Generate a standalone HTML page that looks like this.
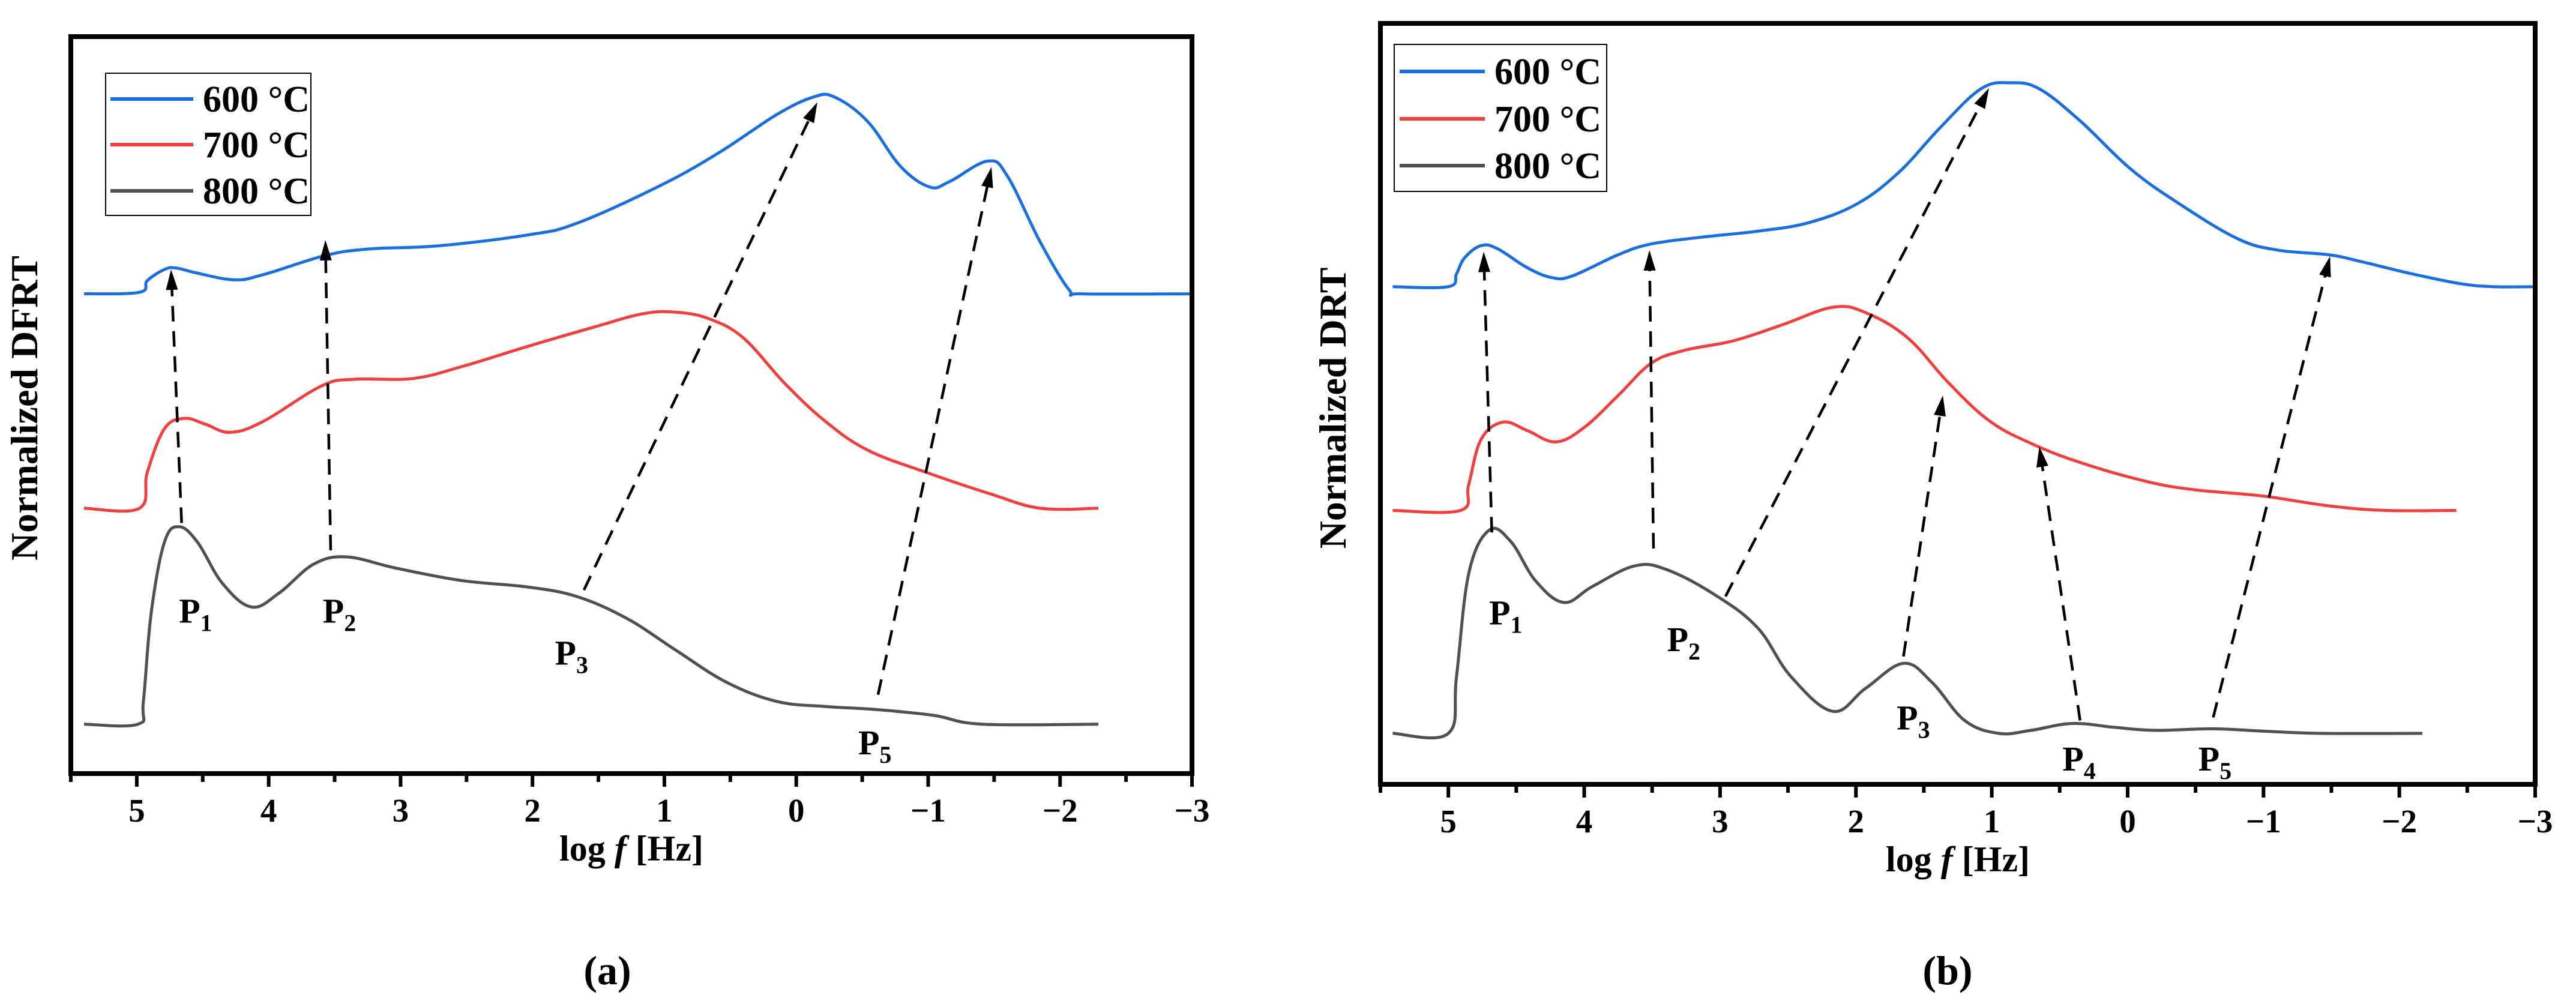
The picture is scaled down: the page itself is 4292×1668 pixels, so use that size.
<!DOCTYPE html>
<html><head><meta charset="utf-8">
<style>
html,body{margin:0;padding:0;background:#fff;}
svg{display:block;}
text{font-family:"Liberation Serif","Times New Roman",serif;font-weight:bold;fill:#000;}
</style></head>
<body>
<svg id="fig" xmlns="http://www.w3.org/2000/svg" width="4292" height="1668" viewBox="0 0 4292 1668">
</svg>
<script>
// ---------- Panel (a) data ----------
const aBlueX=[5.40,4.98,4.92,4.79,4.70,4.54,4.26,4.04,3.57,3.23,2.72,2.03,1.66,1.03,0.59,0.15,-0.13,-0.29,-0.54,-0.79,-1.01,-1.16,-1.45,-1.60,-1.85,-2.07,-2.17,-3.0];
const aBlueY=[65.1,65.3,66.9,68.4,68.6,67.9,67.0,67.7,70.3,71.2,71.6,73.1,74.7,79.8,84.2,89.4,91.8,91.8,88.5,82.4,79.6,80.3,83.1,81.1,72.1,65.6,65.1,65.1];
const aRedX=[5.40,4.98,4.92,4.79,4.64,4.48,4.29,4.04,3.60,3.35,2.91,2.54,2.03,1.53,1.16,0.91,0.66,0.40,0.09,-0.22,-0.54,-0.98,-1.48,-1.85,-2.29];
const aRedY=[36.0,36.0,40.9,46.8,48.2,47.4,46.3,47.8,52.6,53.5,53.6,55.2,58.0,60.6,62.4,62.6,61.7,59.1,53.0,47.8,43.9,40.9,37.9,36.0,36.0];
const aGrayX=[5.40,4.99,4.95,4.89,4.79,4.68,4.54,4.35,4.13,3.92,3.66,3.41,3.04,2.54,2.03,1.66,1.28,0.91,0.53,0.15,-0.22,-0.60,-1.04,-1.41,-2.29];
const aGrayY=[6.7,6.7,9.8,21.9,31.4,33.5,31.4,25.8,22.6,24.5,28.4,29.4,27.9,26.2,25.3,24.0,21.0,16.7,12.4,9.8,9.1,8.7,7.9,6.7,6.7];
const aArrowX0=[4.66,3.53,1.61,-0.62];
const aArrowY0=[34.0,30.3,24.9,10.7];
const aArrowX1=[4.74,3.57,-0.16,-1.48];
const aArrowY1=[68.4,72.4,91.1,82.3];
const aPeakNames=["1","2","3","5"];
const aPeakX=[4.68,3.59,1.83,-0.47];
const aPeakY=[20.5,20.5,14.8,2.6];
// ---------- Panel (b) data ----------
const bBlueX=[5.41,5.0,4.94,4.88,4.76,4.64,4.42,4.24,4.09,3.75,3.51,3.14,2.72,2.35,1.99,1.68,1.38,1.08,0.86,0.65,0.35,-0.02,-0.38,-0.81,-1.11,-1.48,-1.72,-2.09,-2.45,-2.69,-3.0];
const bBlueY=[65.4,65.4,67.1,69.2,70.8,70.4,67.9,66.6,66.8,69.6,71.0,71.9,72.7,73.8,76.3,80.5,86.3,91.4,92.2,91.4,87.2,80.9,76.3,71.7,70.2,69.6,68.7,67.1,65.8,65.4,65.4];
const bRedX=[5.41,4.91,4.85,4.76,4.60,4.42,4.21,4.0,3.75,3.51,3.27,2.90,2.54,2.17,1.93,1.62,1.32,1.02,0.71,0.35,-0.14,-0.50,-0.99,-1.48,-1.90,-2.42];
const bRedY=[36.0,36.0,39.4,45.3,47.6,46.5,45.0,46.9,51.1,55.3,57.0,58.3,60.4,62.7,62.0,58.7,52.8,47.8,44.8,42.3,39.8,38.7,37.9,36.6,36.0,36.0];
const bGrayX=[5.41,5.0,4.94,4.85,4.70,4.54,4.36,4.15,3.94,3.63,3.39,3.02,2.72,2.48,2.17,1.93,1.65,1.44,1.20,0.95,0.71,0.41,0.10,-0.20,-0.63,-0.99,-1.42,-2.17];
const bGrayY=[6.7,6.7,14.2,27.7,33.4,31.9,26.8,23.9,26.0,28.7,28.2,24.7,20.5,14.2,9.6,12.6,15.9,13.4,8.4,6.7,7.1,8.0,7.5,7.1,7.3,7.0,6.7,6.7];
const bArrowX0=[4.68,3.49,2.96,1.65,0.35,-0.63];
const bArrowY0=[33.1,31.0,24.7,16.8,8.4,8.8];
const bArrowX1=[4.74,3.52,1.02,1.36,0.65,-1.49];
const bArrowY1=[70.0,70.2,91.5,51.1,44.4,69.4];
const bPeakNames=["1","2","3","4","5"];
const bPeakX=[4.70,3.39,1.70,0.48,-0.52];
const bPeakY=[21.0,17.5,7.2,1.8,1.8];
// shared
const legendLabels=["600 °C","700 °C","800 °C"];
const tickValues=[5,4,3,2,1,0,-1,-2,-3];
const tickLabels=["5","4","3","2","1","0","\u22121","\u22122","\u22123"];
const minorTicks=[5.5,4.5,3.5,2.5,1.5,0.5,-0.5,-1.5,-2.5];
const colors=["#1a6fdc","#ef4040","#505050"];

const NS="http://www.w3.org/2000/svg";
const svg=document.getElementById('fig');
function mk(tag,attrs,parent){const e=document.createElementNS(NS,tag);for(const k in attrs)e.setAttribute(k,attrs[k]);(parent||svg).appendChild(e);return e;}

function smoothPath(pts){
  let d="M"+pts[0][0].toFixed(1)+","+pts[0][1].toFixed(1);
  for(let i=0;i<pts.length-1;i++){
    const p0=pts[Math.max(0,i-1)],p1=pts[i],p2=pts[i+1],p3=pts[Math.min(pts.length-1,i+2)];
    const t=0.18;
    const c1=[p1[0]+(p2[0]-p0[0])*t,p1[1]+(p2[1]-p0[1])*t];
    const c2=[p2[0]-(p3[0]-p1[0])*t,p2[1]-(p3[1]-p1[1])*t];
    d+=" C"+c1[0].toFixed(1)+","+c1[1].toFixed(1)+" "+c2[0].toFixed(1)+","+c2[1].toFixed(1)+" "+p2[0].toFixed(1)+","+p2[1].toFixed(1);
  }
  return d;
}

function panel(cfg){
  const g=mk('g',{});
  
  
  const L=cfg.L,R=cfg.R,T=cfg.T,B=cfg.B;
  const xs=v=>L+(5.5-v)/8.5*(R-L);
  const ys=v=>B-v/100*(B-T);
  cfg.series.forEach((s,i)=>{
    const pts=s.x.map((xv,j)=>[xs(xv),ys(s.y[j])]);
    const p=mk('path',{d:smoothPath(pts),fill:'none',stroke:colors[i],'stroke-width':5,'stroke-linejoin':'round'},g);
    
    
  });
  cfg.ax0.forEach((v,i)=>{
    const x0=xs(v),y0=ys(cfg.ay0[i]),x1=xs(cfg.ax1[i]),y1=ys(cfg.ay1[i]);
    const len=Math.hypot(x1-x0,y1-y0);
    const ux=(x1-x0)/len,uy=(y1-y0)/len;
    const ln=mk('line',{x1:x0,y1:y0,x2:x1-ux*28,y2:y1-uy*28,stroke:'#000','stroke-width':4.5,'stroke-dasharray':'26,16'},g);
    
    
    const px=-uy,py=ux;
    const bx=x1-ux*34,by=y1-uy*34;
    const hd=mk('polygon',{points:x1+","+y1+" "+(bx+px*10)+","+(by+py*10)+" "+(bx-px*10)+","+(by-py*10),fill:'#000'},g);
    
    
  });
  cfg.pn.forEach((n,i)=>{
    const t=mk('text',{x:xs(cfg.px[i]),y:ys(cfg.py[i]),'font-size':58},g);
    
    
    t.textContent='P';
    const s=mk('tspan',{'font-size':40,dy:14},t);
    s.textContent=n;
  });
  const fr=mk('rect',{x:L,y:T,width:R-L,height:B-T,fill:'none',stroke:'#000','stroke-width':8},g);
  
  
  tickValues.forEach((v,i)=>{
    const x=xs(v);
    const tk=mk('line',{x1:x,y1:B,x2:x,y2:B+22,stroke:'#000','stroke-width':6},g);
    
    
    const tl=mk('text',{x:x,y:B+80,'font-size':55,'text-anchor':'middle'},g);
    
    
    tl.textContent=tickLabels[i];
  });
  minorTicks.forEach(v=>{
    const x=xs(v);
    const tk=mk('line',{x1:x,y1:B,x2:x,y2:B+14,stroke:'#000','stroke-width':6},g);
    
    
  });
  const xt=mk('text',{x:(L+R)/2,y:B+145,'font-size':60,'text-anchor':'middle'},g);
  
  
  xt.appendChild(document.createTextNode('log '));
  const fi=mk('tspan',{'font-style':'italic'},xt); fi.textContent='f';
  xt.appendChild(document.createTextNode(' [Hz]'));
  const yt=mk('text',{x:0,y:0,'font-size':64,'text-anchor':'middle',transform:'translate('+cfg.ytx+',680) rotate(-90)'},g);
  
  
  yt.textContent=cfg.ytitle;
  const lg=mk('g',{},g);
  
  
  const lb=mk('rect',{x:cfg.lg[0],y:cfg.lg[1],width:cfg.lg[2],height:cfg.lg[3],fill:'#fff',stroke:'#000','stroke-width':2},lg);
  
  
  legendLabels.forEach((lab,i)=>{
    const y=cfg.lrows[i];
    const ls=mk('line',{x1:cfg.lx0,y1:y,x2:cfg.lx1,y2:y,stroke:colors[i],'stroke-width':6},lg);
    
    
    const lt=mk('text',{x:cfg.ltx,y:y+21,'font-size':62},lg);
    
    
    lt.textContent=lab;
  });
  const cp=mk('text',{x:cfg.capx,y:1640,'font-size':68,'text-anchor':'middle','font-weight':'normal'},g);
  
  
  cp.appendChild(document.createTextNode('('));
  const cb=mk('tspan',{'font-weight':'bold'},cp); cb.textContent=cfg.cap;
  cp.appendChild(document.createTextNode(')'));
}

panel({name:'panel-a',L:118,R:1986,T:61,B:1289,
  series:[{x:aBlueX,y:aBlueY},{x:aRedX,y:aRedY},{x:aGrayX,y:aGrayY}],
  ax0:aArrowX0,ay0:aArrowY0,ax1:aArrowX1,ay1:aArrowY1,pn:aPeakNames,px:aPeakX,py:aPeakY,
  ytitle:'Normalized DFRT',ytx:62,lg:[176,122,342,237],lrows:[165,241,318],lx0:184,lx1:322,ltx:338,capx:1012,cap:'a'});
panel({name:'panel-b',L:2300,R:4224,T:39,B:1307,
  series:[{x:bBlueX,y:bBlueY},{x:bRedX,y:bRedY},{x:bGrayX,y:bGrayY}],
  ax0:bArrowX0,ay0:bArrowY0,ax1:bArrowX1,ay1:bArrowY1,pn:bPeakNames,px:bPeakX,py:bPeakY,
  ytitle:'Normalized DRT',ytx:2242,lg:[2323,74,354,245],lrows:[119,198,276],lx0:2332,lx1:2474,ltx:2490,capx:3245,cap:'b'});
</script>
</body></html>
